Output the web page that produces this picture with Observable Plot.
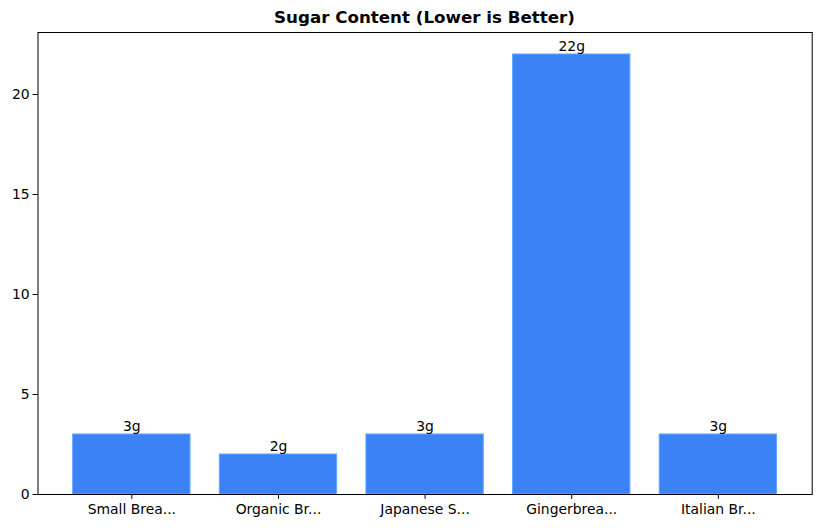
<!DOCTYPE html>
<html><head><meta charset="utf-8">
<script src="https://cdn.jsdelivr.net/npm/d3@7"></script>
<script src="https://cdn.jsdelivr.net/npm/@observablehq/plot@0.6"></script>
<style>
body{margin:0;background:#fff;}
#c{position:relative;width:822px;height:528px;}
#t{position:absolute;left:37.5px;width:774px;top:7px;line-height:20px;text-align:center;font:bold 16.7px "DejaVu Sans";color:#000;}
svg text{font-family:"DejaVu Sans";}
</style></head><body>
<div id="c"><div id="t">Sugar Content (Lower is Better)</div></div>
<script>
const categories = ["Small Brea...", "Organic Br...", "Japanese S...", "Gingerbrea...", "Italian Br..."];
const sugar = [3, 2, 3, 22, 3];
const yTicks = [0, 5, 10, 15, 20];
const data = categories.map((c, i) => ({i, c, v: sugar[i]}));
const chart = Plot.plot({
  width: 822, height: 528,
  marginLeft: 37.5, marginRight: 10.3, marginTop: 32, marginBottom: 34,
  style: {fontFamily: "DejaVu Sans", fontSize: "13.9px", background: "transparent", color: "#000"},
  x: {type: "linear", domain: [-0.64, 4.64]},
  y: {domain: [0, 23.1]},
  marks: [
    Plot.rect(data, {x1: d => d.i - 0.4, x2: d => d.i + 0.4, y1: 0, y2: "v", fill: "#3b82f6", stroke: "#60a5fa", strokeWidth: 1}),
    Plot.text(data, {x: "i", y: "v", text: d => d.v + "g", lineAnchor: "bottom", dy: -4, fontSize: 13.9, fill: "#000"}),
    Plot.frame({stroke: "#000", strokeWidth: 1}),
    Plot.axisX({ticks: categories.map((c, i) => i), tickFormat: i => categories[i], tickSize: 4.9, tickPadding: 5, fontSize: 13.9, label: null}),
    Plot.axisY({ticks: yTicks, tickSize: 4.9, tickPadding: 3.5, fontSize: 13.9, label: null})
  ]
});
document.getElementById("c").appendChild(chart);
</script>
</body></html>
